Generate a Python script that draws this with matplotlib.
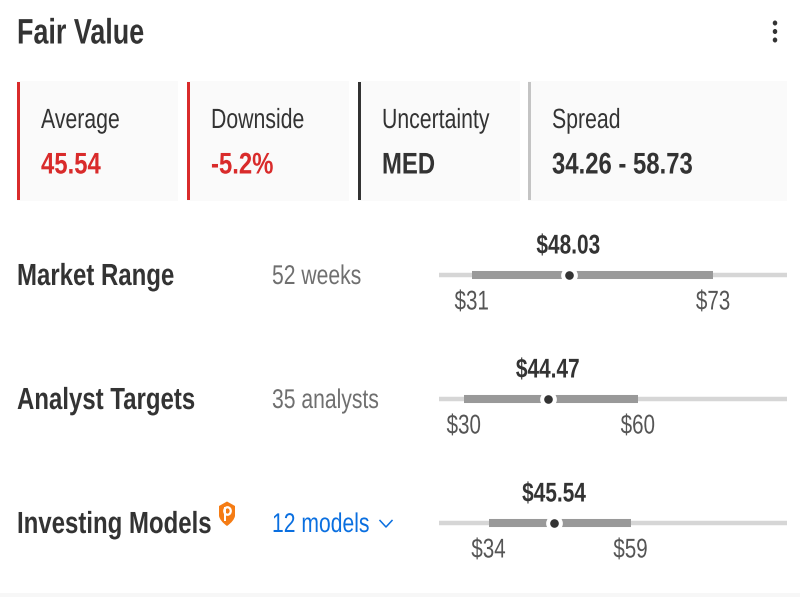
import matplotlib
matplotlib.use("Agg")
import matplotlib.pyplot as plt
from matplotlib.patches import Rectangle, Ellipse, PathPatch
from matplotlib.path import Path
from matplotlib.lines import Line2D
from matplotlib.patheffects import AbstractPathEffect
from matplotlib.transforms import Affine2D

# Card contents
card_titles = ["Average", "Downside", "Uncertainty", "Spread"]
card_values = ["45.54", "-5.2%", "MED", "34.26 - 58.73"]
card_accents = ["#d92b2b", "#d92b2b", "#333333", "#c4c4c4"]
card_value_colors = ["#d92b2b", "#d92b2b", "#333333", "#333333"]

# Range rows
row_names = ["Market Range", "Analyst Targets", "Investing Models"]
row_notes = ["52 weeks", "35 analysts", "12 models"]
row_note_colors = ["#6f6f6f", "#6f6f6f", "#0a6fe0"]
range_low = [31.4, 30.0, 34.26]
range_high = [73.0, 60.0, 58.73]
range_mid = [48.03, 44.47, 45.54]
low_labels = ["$31", "$30", "$34"]
high_labels = ["$73", "$60", "$59"]
mid_labels = ["$48.03", "$44.47", "$45.54"]
track_limits = (25.7, 85.7)

W, H = 800, 597
DARK = "#333333"
plt.rcParams["font.family"] = ["Liberation Sans", "DejaVu Sans"]


class Condensed(AbstractPathEffect):
    """Narrows glyph outlines horizontally, about the start or the middle of the string."""

    def __init__(self, factor, centered=False):
        super().__init__()
        self.factor = factor
        self.centered = centered

    def draw_path(self, renderer, gc, tpath, affine, rgbFace=None):
        pivot = 0.0
        if self.centered:
            box = tpath.get_extents()
            pivot = (box.x0 + box.x1) / 2
        squeeze = Affine2D().translate(-pivot, 0).scale(self.factor, 1).translate(pivot, 0)
        renderer.draw_path(gc, tpath, squeeze + affine, rgbFace)


fig = plt.figure(figsize=(W / 100, H / 100), dpi=100, facecolor="white")

# Canvas in pixel units for the page furniture
page = fig.add_axes([0, 0, 1, 1])
page.set_xlim(0, W)
page.set_ylim(H, 0)
page.axis("off")

page.text(17, 34, "Fair Value", fontsize=25.5, fontweight="bold", color=DARK, va="center", ha="left",
          path_effects=[Condensed(0.76)])
for y in (23, 31.5, 40):
    page.add_patch(Ellipse((775, y), 4.5, 5, color=DARK, lw=0))

# Summary cards
card_left = [17, 187, 358, 528]
card_right = [178, 349, 520, 787]
for i, title in enumerate(card_titles):
    x0, x1 = card_left[i], card_right[i]
    page.add_patch(Rectangle((x0, 81), x1 - x0, 120, fc="#fafafa", ec="none"))
    page.add_patch(Rectangle((x0, 82), 3, 118, fc=card_accents[i], ec="none"))
    page.text(x0 + 24, 121, title, fontsize=20, color=DARK, va="center", ha="left",
              path_effects=[Condensed(0.765)])
    page.text(x0 + 24, 165.5, card_values[i], fontsize=21.5, fontweight="bold",
              color=card_value_colors[i], va="center", ha="left",
              path_effects=[Condensed(0.80)])

# Range rows
row_y = [275, 399, 523]
for i, name in enumerate(row_names):
    y = row_y[i]
    page.text(17, y + 2, name, fontsize=22, fontweight="bold", color=DARK, va="center", ha="left",
              path_effects=[Condensed(0.785)])
    page.text(272, y + 2, row_notes[i], fontsize=19.5, color=row_note_colors[i], va="center", ha="left",
              path_effects=[Condensed(0.78)])

# Chevron beside the models link
page.add_line(Line2D([380, 386, 392], [520.5, 527, 520.5], color="#0a6fe0", lw=1.1))

# Pro badge: orange shield with a white P mark
shield = Path(
    [(219, 506), (227, 501.5), (235, 506), (235, 516), (234, 521), (227, 526), (220, 521), (219, 516), (219, 506)],
    [Path.MOVETO, Path.LINETO, Path.LINETO, Path.LINETO, Path.CURVE3, Path.CURVE3, Path.CURVE3, Path.CURVE3, Path.CLOSEPOLY],
)
page.add_patch(PathPatch(shield, fc="#f57c14", ec="none"))
page.add_patch(Rectangle((223.5, 507), 2.4, 14, fc="white", ec="none"))
page.add_patch(Ellipse((227.5, 511), 6.5, 7.5, fc="none", ec="white", lw=1.6))

# Footer strip
page.add_patch(Rectangle((0, 593), W, 4, fc="#f7f7f7", ec="none"))

# Range tracks share one value scale
rng = fig.add_axes([439 / W, 0, (787 - 439) / W, 1])
rng.set_xlim(*track_limits)
rng.set_ylim(H, 0)
rng.axis("off")
rng.patch.set_alpha(0)

for i in range(len(row_names)):
    y = row_y[i]
    lo, hi, mid = range_low[i], range_high[i], range_mid[i]
    rng.plot(track_limits, [y, y], color="#d6d6d6", lw=3.2, solid_capstyle="butt", zorder=1)
    rng.plot([lo, hi], [y, y], color="#999999", lw=5.8, solid_capstyle="butt", zorder=2)
    rng.plot([mid], [y], "o", ms=11, mfc="white", mec="white", zorder=3)
    rng.plot([mid], [y], "o", ms=6.2, mfc=DARK, mec=DARK, mew=0, zorder=4)
    rng.text(mid, y - 28.5, mid_labels[i], fontsize=19.5, fontweight="bold", color=DARK, va="center", ha="center",
             path_effects=[Condensed(0.77, centered=True)])
    rng.text(lo, y + 27.5, low_labels[i], fontsize=19.5, color="#555555", va="center", ha="center",
             path_effects=[Condensed(0.76, centered=True)])
    rng.text(hi, y + 27.5, high_labels[i], fontsize=19.5, color="#555555", va="center", ha="center",
             path_effects=[Condensed(0.76, centered=True)])

fig.savefig("out.png", dpi=100, facecolor="white")
